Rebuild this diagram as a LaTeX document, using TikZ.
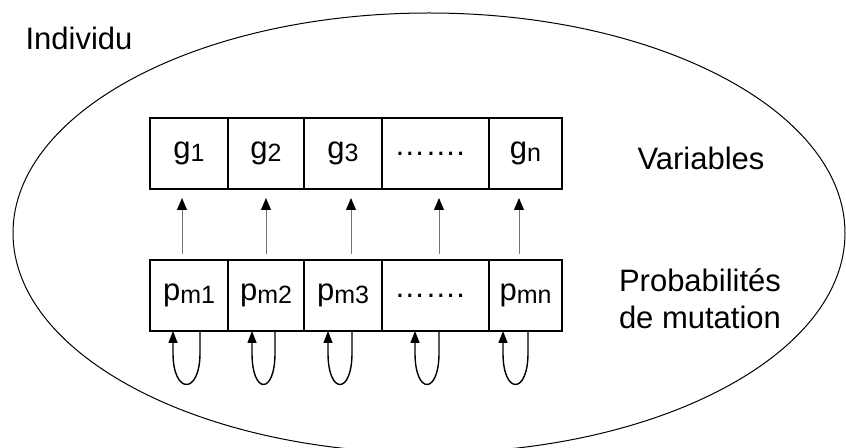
\documentclass[tikz,border=0pt]{standalone}
\usepackage{fontspec}
\setmainfont{Liberation Sans}
\usetikzlibrary{arrows.meta,calc,positioning}
\newcommand{\idx}[1]{\raisebox{-1.5pt}{\fontsize{12.5}{12.5}\selectfont #1}}

\begin{document}
\begin{tikzpicture}[
  x=0.5pt,y=-0.5pt,
  every node/.style={font=\fontsize{15.5}{18.5}\selectfont},
  cell/.style={draw=black,line width=1pt,outer sep=0pt,inner sep=0pt,minimum height=35.5pt,align=center},
  lbl/.style={inner sep=0pt,align=center},
  uparr/.style={-{Triangle[length=6pt,width=5pt,color=black]},draw=black!55,line width=0.5pt},
  mutloop/.style={-{Triangle[length=6pt,width=4.5pt]},draw=black,line width=0.7pt}
]
\useasboundingbox (0,0) rectangle (846,448);
\draw[line width=0.5pt] (429,233) ellipse [x radius=208pt,y radius=110pt];
\node[lbl,anchor=base] (indiv) at (79,50) {Individu};
% variables
\node[cell,minimum width=39pt] (g1) at (189,153.5) {g\idx{1}};
\node[cell,minimum width=38pt,right=0pt of g1] (g2) {g\idx{2}};
\node[cell,minimum width=39pt,right=0pt of g2] (g3) {g\idx{3}};
\node[cell,minimum width=53.5pt,right=0pt of g3] (g4) {……. };
\node[cell,minimum width=36.5pt,right=0pt of g4] (g5) {g\idx{n}};
% probabilites de mutation
\node[cell,minimum width=39pt] (p1) at (189,295.5) {p\idx{m1}};
\node[cell,minimum width=38pt,right=0pt of p1] (p2) {p\idx{m2}};
\node[cell,minimum width=39pt,right=0pt of p2] (p3) {p\idx{m3}};
\node[cell,minimum width=53.5pt,right=0pt of p3] (p4) {……. };
\node[cell,minimum width=36.5pt,right=0pt of p4] (p5) {p\idx{mn}};
\node[lbl,anchor=base] (var) at (701,170) {Variables};
\node[lbl,anchor=north] (prob) at (700,268) {Probabilités\\de mutation};
\foreach \c/\dx in {1/-7,2/0,3/8,4/3.5,5/-6.5}
  \draw[uparr] ($(p\c.north)+(\dx,-6)$) -- ($(g\c.south)+(\dx,9)$);
\foreach \c/\l/\r in {1/-16/11,2/-14/9,3/-15/9,4/-20.5/3.5,5/-22.5/2.5}
  \draw[mutloop] ($(p\c.south)+(\r,0)$) -- ++(0,22) .. controls +(0,42) and +(0,42) .. ($(p\c.south)+(\l,22)$) -- ($(p\c.south)+(\l,0)$);
\end{tikzpicture}
\end{document}
